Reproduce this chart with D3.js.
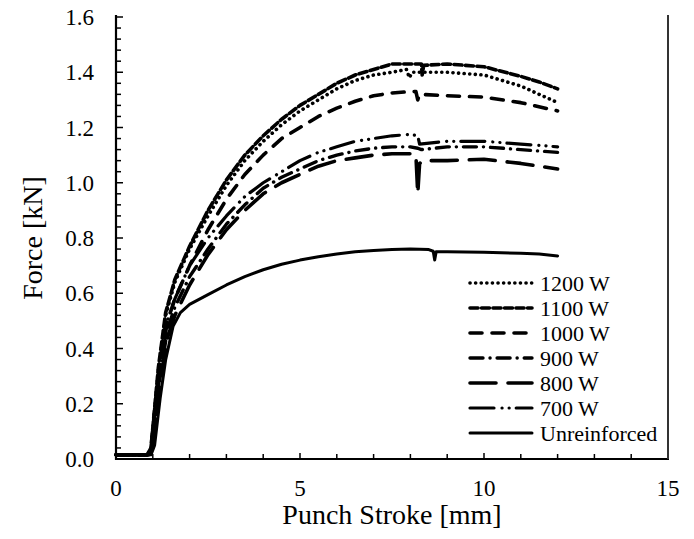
<!DOCTYPE html>
<html>
<head>
<meta charset="utf-8">
<script src="https://cdn.jsdelivr.net/npm/d3@7"></script>
<style>
  html, body { margin: 0; padding: 0; background: #fff; }
  svg { display: block; }
</style>
</head>
<body>
<svg id="chart" width="694" height="539"></svg>
<script>
// ---- data ----
const seriesNames = ["1200 W", "1100 W", "1000 W", "900 W", "800 W", "700 W", "Unreinforced"];
const xTicks = [0, 5, 10, 15];
const yTicks = [0.0, 0.2, 0.4, 0.6, 0.8, 1.0, 1.2, 1.4, 1.6];

const s1200 = [[0,0.015],[0.85,0.015],[0.95,0.04],[1.15,0.32],[1.35,0.52],[1.6,0.64],[2.0,0.76],[2.5,0.88],[3.0,0.99],[3.5,1.08],[4.0,1.15],[4.5,1.21],[5.0,1.26],[5.5,1.3],[6.0,1.34],[6.5,1.37],[7.0,1.39],[7.5,1.4],[7.9,1.41],[7.97,1.38],[8.05,1.4],[8.5,1.4],[9.0,1.4],[10.0,1.39],[11.0,1.35],[11.5,1.32],[12.0,1.29]];
const s1100 = [[0,0.015],[0.85,0.015],[0.95,0.04],[1.15,0.33],[1.35,0.53],[1.6,0.65],[2.0,0.77],[2.5,0.9],[3.0,1.01],[3.5,1.1],[4.0,1.17],[4.5,1.23],[5.0,1.28],[5.5,1.32],[6.0,1.36],[6.5,1.39],[7.0,1.41],[7.5,1.43],[8.0,1.43],[8.3,1.43],[8.32,1.39],[8.36,1.425],[9.0,1.43],[10.0,1.42],[11.0,1.385],[11.5,1.365],[12.0,1.34]];
const s1000 = [[0,0.015],[0.85,0.015],[0.95,0.04],[1.15,0.3],[1.35,0.48],[1.6,0.58],[2.0,0.7],[2.5,0.83],[3.0,0.94],[3.5,1.03],[4.0,1.1],[4.5,1.16],[5.0,1.2],[5.5,1.24],[6.0,1.27],[6.5,1.295],[7.0,1.315],[7.5,1.325],[8.0,1.33],[8.15,1.33],[8.2,1.3],[8.25,1.32],[9.0,1.315],[10.0,1.31],[11.0,1.29],[12.0,1.26]];
const s900 = [[0,0.015],[0.9,0.015],[1.0,0.05],[1.2,0.3],[1.4,0.47],[1.6,0.55],[2.0,0.66],[2.5,0.76],[3.0,0.85],[3.5,0.92],[4.0,0.98],[4.5,1.02],[5.0,1.05],[5.5,1.08],[6.0,1.1],[6.5,1.115],[7.0,1.125],[7.5,1.13],[8.0,1.13],[8.2,1.125],[8.3,1.12],[9.0,1.13],[10.0,1.13],[11.0,1.12],[12.0,1.11]];
const s800 = [[0,0.015],[0.9,0.015],[1.0,0.04],[1.2,0.28],[1.4,0.44],[1.6,0.52],[2.0,0.63],[2.5,0.74],[3.0,0.83],[3.5,0.9],[4.0,0.96],[4.5,1.0],[5.0,1.03],[5.5,1.06],[6.0,1.08],[6.5,1.09],[7.0,1.1],[7.5,1.105],[8.0,1.105],[8.15,1.1],[8.2,0.96],[8.25,1.07],[8.35,1.08],[9.0,1.08],[10.0,1.085],[11.0,1.07],[12.0,1.05]];
const s700 = [[0,0.015],[0.9,0.015],[1.0,0.05],[1.2,0.32],[1.4,0.5],[1.6,0.58],[2.0,0.7],[2.5,0.8],[3.0,0.88],[3.5,0.95],[4.0,1.0],[4.5,1.04],[5.0,1.08],[5.5,1.11],[6.0,1.13],[6.5,1.15],[7.0,1.16],[7.5,1.17],[8.0,1.175],[8.2,1.17],[8.25,1.14],[9.0,1.15],[10.0,1.15],[11.0,1.14],[12.0,1.13]];
const sUnr = [[0,0.015],[0.95,0.015],[1.05,0.05],[1.2,0.22],[1.35,0.36],[1.55,0.48],[1.75,0.53],[2.0,0.56],[2.5,0.595],[3.0,0.63],[3.5,0.66],[4.0,0.685],[4.5,0.705],[5.0,0.72],[5.5,0.732],[6.0,0.742],[6.5,0.75],[7.0,0.755],[7.5,0.758],[8.0,0.76],[8.5,0.758],[8.62,0.752],[8.66,0.72],[8.7,0.75],[9.0,0.75],[10.0,0.748],[11.0,0.745],[11.5,0.742],[12.0,0.735]];

const seriesData = [s1200, s1100, s1000, s900, s800, s700, sUnr];
const dashes = ["0.1,5.5", "8,3.5", "12,10", "13,7,0.1,7", "26,12", "24,8,0.1,7,0.1,7", null];
const widths = [3.6, 3.6, 3.6, 3.4, 3.6, 3.2, 3];

// ---- layout ----
const svg = d3.select("#chart");
const L = 116, R = 668, T = 17, B = 459;
const x = d3.scaleLinear().domain([0, 15]).range([L, R]);
const y = d3.scaleLinear().domain([0, 1.6]).range([B, T]);
const font = "'Liberation Serif', 'Times New Roman', serif";

// curves
const line = d3.line().x(d => x(d[0])).y(d => y(d[1]));
seriesData.forEach((s, i) => {
  svg.append("path")
    .attr("d", line(s))
    .attr("fill", "none")
    .attr("stroke", "#000")
    .attr("stroke-width", widths[i])
    .attr("stroke-linecap", "round")
    .attr("stroke-linejoin", "round")
    .attr("stroke-dasharray", dashes[i]);
});

// axes
const xAxis = d3.axisBottom(x).tickValues(d3.range(0, 15.01, 1)).tickSize(0).tickFormat("");
const gx = svg.append("g").attr("transform", `translate(0,${B})`).call(xAxis);
gx.select(".domain").remove();
d3.range(0, 15.01, 1).forEach(v => {
  const major = xTicks.includes(v);
  gx.append("line").attr("x1", x(v)).attr("x2", x(v)).attr("y1", 0).attr("y2", major ? -6 : -5)
    .attr("stroke", "#000").attr("stroke-width", 1.5);
});
xTicks.forEach(v => {
  gx.append("text").attr("x", x(v)).attr("y", 37).attr("text-anchor", "middle")
    .attr("font-family", font).attr("font-size", 23).attr("fill", "#000").text(v);
});

const gy = svg.append("g").attr("transform", `translate(${L},0)`);
d3.range(0, 41).forEach(k => {
  const v = k * 0.04;
  const major = k % 5 === 0;
  gy.append("line").attr("x1", 0).attr("x2", major ? 7 : 5).attr("y1", y(v)).attr("y2", y(v))
    .attr("stroke", "#000").attr("stroke-width", 1.5);
});
yTicks.forEach(v => {
  gy.append("text").attr("x", -22).attr("y", y(v)).attr("dy", "0.35em").attr("text-anchor", "end")
    .attr("font-family", font).attr("font-size", 23).attr("fill", "#000").text(v.toFixed(1));
});

// frame lines
svg.append("line").attr("x1", L).attr("x2", L).attr("y1", T - 2).attr("y2", B + 1).attr("stroke", "#000").attr("stroke-width", 2.2);
svg.append("line").attr("x1", L - 1).attr("x2", R + 1).attr("y1", B).attr("y2", B).attr("stroke", "#000").attr("stroke-width", 2.2);
svg.append("line").attr("x1", R).attr("x2", R).attr("y1", T - 2).attr("y2", B).attr("stroke", "#333").attr("stroke-width", 2);

// axis titles
svg.append("text").attr("x", (L + R) / 2).attr("y", 524).attr("text-anchor", "middle")
  .attr("font-family", font).attr("font-size", 28).attr("fill", "#000").text("Punch Stroke [mm]");
svg.append("text").attr("transform", `translate(42,${(T + B) / 2}) rotate(-90)`).attr("text-anchor", "middle")
  .attr("font-family", font).attr("font-size", 28).attr("fill", "#000").text("Force [kN]");

// legend
const legY0 = 283, legStep = 25, lx1 = 470, lx2 = 532;
seriesNames.forEach((name, i) => {
  const yy = legY0 + i * legStep;
  svg.append("line").attr("x1", lx1).attr("x2", lx2).attr("y1", yy).attr("y2", yy)
    .attr("stroke", "#000").attr("stroke-width", widths[i])
    .attr("stroke-linecap", "round")
    .attr("stroke-dasharray", dashes[i]);
  svg.append("text").attr("x", lx2 + 8).attr("y", yy).attr("dy", "0.35em")
    .attr("font-family", font).attr("font-size", 22).attr("fill", "#000").text(name);
});
</script>
</body>
</html>
